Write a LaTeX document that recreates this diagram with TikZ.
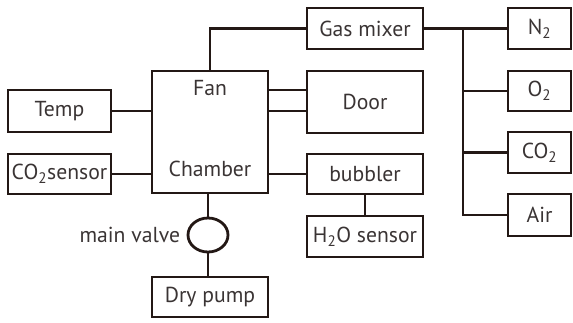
\documentclass[tikz,border=0pt]{standalone}
\usepackage{fontspec}
\setmainfont{PT Sans}
\usetikzlibrary{positioning,calc,shapes.geometric}
\definecolor{ink}{HTML}{231815}
\definecolor{txt}{HTML}{3A3434}

\begin{document}
\begin{tikzpicture}[x=0.03cm,y=-0.03cm,font=\fontsize{18.5}{21}\selectfont,text=txt,
 box/.style={draw=ink,line width=2.4pt,inner sep=0pt},
 wire/.style={draw=ink,line width=2.4pt}]
 \useasboundingbox (0,0) rectangle (573,322);
 % chamber and its side boxes
 \node[box,minimum width=116*0.03cm,minimum height=122*0.03cm] (chamber) at (210,132) {};
 \node (fan) at (210,88) {Fan};
 \node (chambertxt) at (210,169) {Chamber};
 \node[box,minimum width=103*0.03cm,minimum height=42*0.03cm] (temp) at (59.5,111) {Temp};
 \node[box,minimum width=103*0.03cm,minimum height=40*0.03cm] (co2s) at (59.5,174) {CO\textsubscript{2}sensor};
 \node[box,minimum width=116*0.03cm,minimum height=41*0.03cm] (mixer) at (365,28.5) {Gas mixer};
 \node[box,minimum width=116*0.03cm,minimum height=62*0.03cm] (door) at (365,102) {Door};
 \node[box,minimum width=116*0.03cm,minimum height=40*0.03cm] (bubbler) at (365,174) {bubbler};
 \node[box,minimum width=116*0.03cm,minimum height=41*0.03cm] (h2o) at (365,236.5) {H\textsubscript{2}O sensor};
 \node[box,ellipse,minimum width=40*0.03cm,minimum height=34*0.03cm] (valve) at (208,235) {};
 \node[left=2pt of valve] (valvetxt) {main valve};
 \node[box,minimum width=116*0.03cm,minimum height=40*0.03cm] (pump) at (210,297) {Dry pump};
 % gas supply
 \node[box,minimum width=63*0.03cm,minimum height=41*0.03cm] (n2) at (539.5,28.5) {N\textsubscript{2}};
 \node[box,minimum width=63*0.03cm,minimum height=40*0.03cm] (o2) at (539.5,91) {O\textsubscript{2}};
 \node[box,minimum width=63*0.03cm,minimum height=41*0.03cm] (co2) at (539.5,152.5) {CO\textsubscript{2}};
 \node[box,minimum width=63*0.03cm,minimum height=42*0.03cm] (air) at (539.5,215) {Air};
 \coordinate (bus) at (463,28.5);
 % connections
 \draw[wire] (temp) -- (temp -| chamber.west);
 \draw[wire] (co2s) -- (co2s -| chamber.west);
 \draw[wire] (chamber.north) |- (mixer.west);
 \draw[wire] ([yshift=0.36cm]door.west) -- ([yshift=0.36cm]door.west -| chamber.east);
 \draw[wire] ([yshift=-0.27cm]door.west) -- ([yshift=-0.27cm]door.west -| chamber.east);
 \draw[wire] (bubbler) -- (bubbler -| chamber.east);
 \draw[wire] (bubbler) -- (h2o);
 \draw[wire] (mixer) -- (n2);
 \draw[wire] (bus) |- (air);
 \draw[wire] (o2 -| bus) -- (o2);
 \draw[wire] (co2 -| bus) -- (co2);
 \draw[wire] (chamber.south -| valve) -- (valve);
 \draw[wire] (valve) -- (valve |- pump.north);
\end{tikzpicture}
\end{document}
